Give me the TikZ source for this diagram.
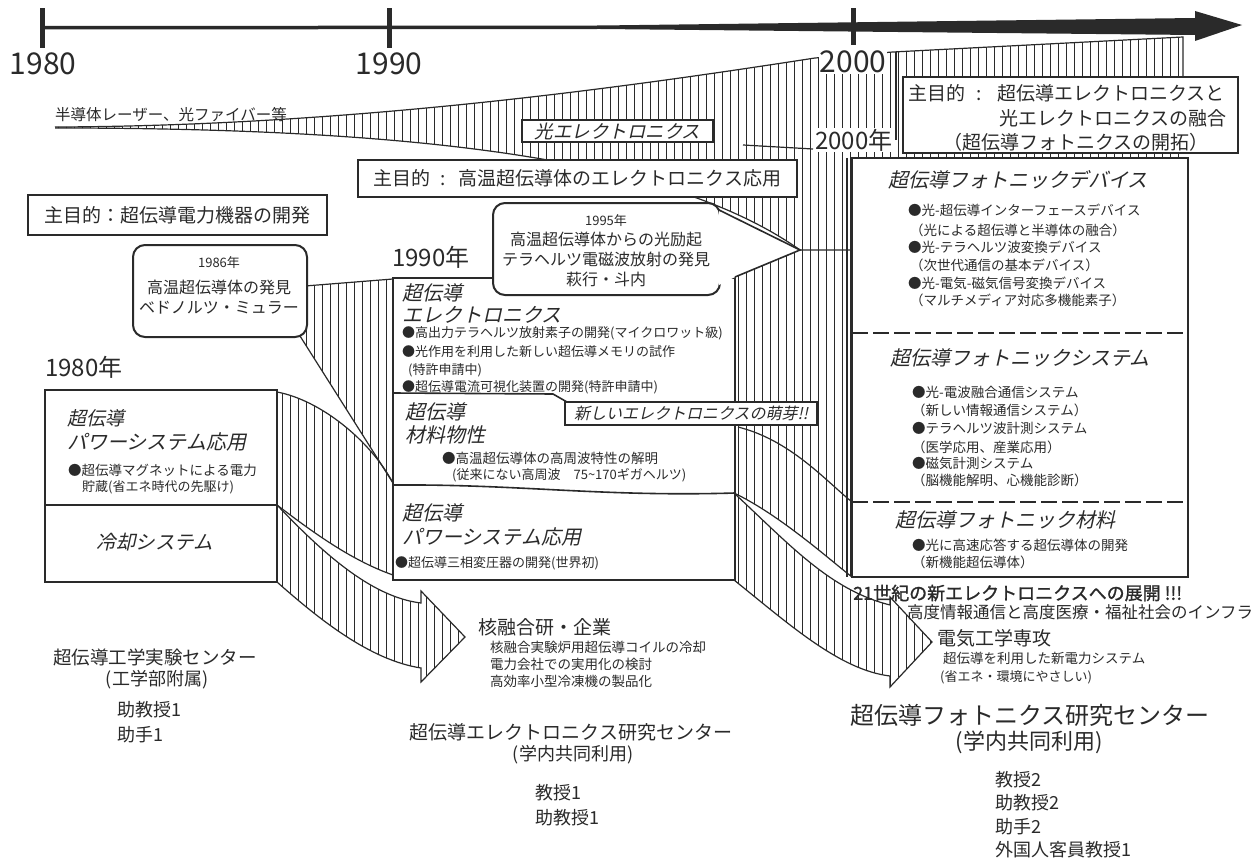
\documentclass[tikz,border=0pt]{standalone}
\usepackage{fontspec}
\setmainfont{Noto Sans CJK JP}
\newfontfamily\jit[FakeSlant=0.22]{Noto Sans CJK JP}
\newfontfamily\jbd[FakeBold=1.2]{Noto Sans CJK JP}
\newcommand{\fz}[1]{\fontsize{#1pt}{#1pt}\selectfont}
\newcommand{\stripefill}{\foreach \x in {2,10,...,1250} \draw[stripe] (\x,0) -- (\x,861);}
\definecolor{ink}{HTML}{2A2A2A}
\begin{document}
\begin{tikzpicture}[x=1pt,y=-1pt,
  box/.style={draw=ink, line width=2pt, fill=white},
  thinbox/.style={draw=ink, line width=1.1pt, fill=white},
  bline/.style={draw=ink, line width=1.2pt},
  stripe/.style={draw=ink, line width=0.8pt},
  lbl/.style={inner sep=0pt, anchor=west, text=ink},
  ctr/.style={inner sep=0pt, text=ink},
]
\fill[white] (0,0) rectangle (1252,861);
\useasboundingbox (0,0) rectangle (1252,861);

% ---------------- timeline ----------------
\fill[ink] (42,26) -- (600,25.5) -- (1195,18) -- (1195,11) -- (1242,25) -- (1195,41) -- (1195,35) -- (600,29) -- (42,29.5) -- cycle;
\fill[ink] (40,8) rectangle (45,48);
\fill[ink] (387,8) rectangle (392,48);
\fill[ink] (851,8) rectangle (856,45);
\node[ctr, font=\fz{30}] (y1980) at (43,64) {1980};
\node[ctr, font=\fz{30}] (y1990) at (389,64) {1990};

% ---------------- striped flows ----------------
% opto-electronics band, right column and flow out of the 1990 box
\begin{scope}
\clip (55,127) .. controls (360,126) and (640,85) .. (815,58) -- (893,52) -- (1183,37) -- (1183,160) -- (852,160) -- (852,577) .. controls (830,560) and (780,515) .. (734,493) -- (734,275) -- (800,250) .. controls (680,165) and (450,128) .. (55,128) -- cycle;
\stripefill
\end{scope}
% flow 1990 power -> electrical engineering arrow
\begin{scope}
\clip (734,493) .. controls (790,545) and (830,590) .. (890,605) -- (890,597) -- (932,642) -- (890,687) -- (890,676) .. controls (840,670) and (790,625) .. (734,580) -- cycle;
\stripefill
\end{scope}
% 1986 discovery flow
\begin{scope}
\clip (305,286) -- (393,279) -- (393,483) -- (300,336) -- cycle;
\stripefill
\end{scope}
% 1980 power -> 1990 power
\begin{scope}
\clip (277,392) .. controls (320,400) and (370,440) .. (393,483) -- (393,575) .. controls (350,560) and (310,530) .. (277,505) -- cycle;
\stripefill
\end{scope}
% 1980 cooling -> arrow
\begin{scope}
\clip (277,505) .. controls (320,550) and (370,597) .. (421,603) -- (421,591) -- (465,637) -- (421,682) -- (421,668) .. controls (370,660) and (320,620) .. (277,582) -- cycle;
\stripefill
\end{scope}

% outlines of flows
\draw[bline] (55,127) .. controls (360,126) and (640,85) .. (815,58) -- (893,52) -- (1183,37) -- (1183,80);
\draw[bline] (55,128) .. controls (450,128) and (680,165) .. (800,250) -- (852,250);
\draw[bline] (738,427) .. controls (790,440) and (825,480) .. (852,502);
\draw[bline] (734,493) .. controls (780,515) and (830,560) .. (852,577);
\draw[bline] (743,145) -- (813,149);
\draw[bline] (896,52) -- (896,140);
\draw[bline] (734,493) .. controls (790,545) and (830,590) .. (890,605) -- (890,597) -- (932,642) -- (890,687) -- (890,676) .. controls (840,670) and (790,625) .. (734,580);
\draw[bline] (305,286) -- (393,279);
\draw[bline] (300,336) -- (393,483);
\draw[bline] (277,392) .. controls (320,400) and (370,440) .. (393,483);
\draw[bline] (393,575) .. controls (350,560) and (310,530) .. (277,505);
\draw[bline] (277,505) .. controls (320,550) and (370,597) .. (421,603) -- (421,591) -- (465,637) -- (421,682) -- (421,668) .. controls (370,660) and (320,620) .. (277,582);

% ---------------- year labels on the flows ----------------
\node[ctr, font=\fz{30}, fill=white, inner sep=1pt] (y2000) at (853,62) {2000};
\node[lbl, font=\fz{24}, fill=white, inner sep=1pt] (n2000) at (814,140) {2000年};
\node[lbl, font=\fz{24}] (n1990) at (392,257) {1990年};
\node[lbl, font=\fz{24}] (n1980) at (45,367) {1980年};

% ---------------- semiconductor label ----------------
\node[lbl, font=\fz{15.5}] (semi) at (55,115) {半導体レーザー、光ファイバー等};
\node[thinbox, ctr, font=\jit\fz{18.5}, minimum width=191pt, minimum height=22pt] (opto) at (617.5,131) {光エレクトロニクス};

% ---------------- goal boxes ----------------
\node[box, ctr, font=\fz{19}, minimum width=299pt, minimum height=40pt] (goal80) at (177.5,215) {主目的：超伝導電力機器の開発};
\node[box, ctr, font=\fz{19}, minimum width=439pt, minimum height=37pt] (goal90) at (577.5,178.5) {主目的\hspace{0.5em}:\hspace{0.7em}高温超伝導体のエレクトロニクス応用};
\draw[box] (903,77) rectangle (1238,153);
\node[lbl, font=\fz{19}] (g2a) at (908,93) {主目的\hspace{0.6em}:\hspace{0.8em}超伝導エレクトロニクスと};
\node[ctr, anchor=east, font=\fz{19}] (g2b) at (1227,118) {光エレクトロニクスの融合};
\node[ctr, font=\fz{19}] (g2c) at (1076,142) {（超伝導フォトニクスの開拓）};

% ---------------- 1980 box ----------------
\draw[box] (45,390) rectangle (277,582);
\draw[bline, line width=2pt] (45,505) -- (277,505);
\node[lbl, font=\jit\fz{19}] (a1) at (67,418) {超伝導};
\node[lbl, font=\jit\fz{20}] (a2) at (67,442) {パワーシステム応用};
\node[lbl, font=\fz{13.5}] (a3) at (68,470) {●超伝導マグネットによる電力};
\node[lbl, font=\fz{13}] (a4) at (82,487) {貯蔵(省エネ時代の先駆け)};
\node[ctr, font=\jit\fz{19.5}] (a5) at (155,542) {冷却システム};

% 1986 callout
\draw[box, rounded corners=12pt] (133,245) rectangle (307,337);
\node[ctr, font=\fz{13}] (c1) at (219,263) {1986年};
\node[ctr, font=\fz{16}] (c2) at (219,287) {高温超伝導体の発見};
\node[ctr, font=\fz{16}] (c3) at (219,308) {ベドノルツ・ミュラー};

% ---------------- 1990 box ----------------
\draw[box] (393,278) rectangle (735,580);
\draw[bline, line width=1.6pt] (393,393) -- (553,394) -- (567,402);
\draw[bline, line width=1.6pt] (393,485) .. controls (520,484) and (600,497) .. (735,493);
\node[lbl, font=\jit\fz{20}] (b1) at (402,293) {超伝導};
\node[lbl, font=\jit\fz{20}] (b2) at (402,315) {エレクトロニクス};
\node[lbl, font=\fz{13}] (b3) at (402,333) {●高出力テラヘルツ放射素子の開発(マイクロワット級)};
\node[lbl, font=\fz{13}] (b4) at (402,352) {●光作用を利用した新しい超伝導メモリの試作};
\node[lbl, font=\fz{13}] (b5) at (408,370) {(特許申請中)};
\node[lbl, font=\fz{13}] (b6) at (402,387) {●超伝導電流可視化装置の開発(特許申請中)};
\node[lbl, font=\jit\fz{20}] (b7) at (405,412) {超伝導};
\node[lbl, font=\jit\fz{20}] (b8) at (405,435) {材料物性};
\node[lbl, font=\fz{13.5}] (b9) at (442,458) {●高温超伝導体の高周波特性の解明};
\node[lbl, font=\fz{13}] (b10) at (452,475) {(従来にない高周波\hspace{1em}75\textasciitilde170ギガヘルツ)};
\node[lbl, font=\jit\fz{20}] (b11) at (402,513) {超伝導};
\node[lbl, font=\jit\fz{20}] (b12) at (402,537) {パワーシステム応用};
\node[lbl, font=\fz{13}] (b13) at (395,563) {●超伝導三相変圧器の開発(世界初)};
\node[thinbox, ctr, font=\jit\fz{16}, minimum width=252pt, minimum height=23pt] (sprout) at (691,413.5) {新しいエレクトロニクスの萌芽!!};

% 1995 callout with pointer
\draw[box, rounded corners=12pt] (493,203) rectangle (720,295);
\fill[white] (719,210) -- (800,250) -- (735,277) -- (719,285) -- cycle;
\draw[bline, line width=1.6pt] (719,210) -- (800,250) -- (735,277);
\node[ctr, font=\fz{13}] (d1) at (606,221) {1995年};
\node[ctr, font=\fz{16}] (d2) at (606,239) {高温超伝導体からの光励起};
\node[ctr, font=\fz{16}] (d3) at (606,259) {テラヘルツ電磁波放射の発見};
\node[ctr, font=\fz{16}] (d4) at (606,279) {萩行・斗内};

% ---------------- 2000 block ----------------
\draw[box] (852,158) rectangle (1188,577);
\draw[bline, line width=1.4pt] (847,158) -- (847,577);
\draw[bline, line width=1.6pt, dash pattern=on 16pt off 5pt] (852,333) -- (1188,333);
\draw[bline, line width=1.6pt, dash pattern=on 16pt off 5pt] (852,502) -- (1188,502);
\node[lbl, font=\jit\fz{20}] (e1) at (888,180) {超伝導フォトニックデバイス};
\node[lbl, font=\fz{13.5}] (e2) at (908,210) {●光-超伝導インターフェースデバイス};
\node[lbl, font=\fz{13.5}] (e3) at (910,230) {（光による超伝導と半導体の融合）};
\node[lbl, font=\fz{13.5}] (e4) at (908,247) {●光-テラヘルツ波変換デバイス};
\node[lbl, font=\fz{13.5}] (e5) at (910,265) {（次世代通信の基本デバイス）};
\node[lbl, font=\fz{13.5}] (e6) at (908,283) {●光-電気-磁気信号変換デバイス};
\node[lbl, font=\fz{13.5}] (e7) at (910,300) {（マルチメディア対応多機能素子）};
\node[lbl, font=\jit\fz{20}] (f1) at (890,358) {超伝導フォトニックシステム};
\node[lbl, font=\fz{13.5}] (f2) at (912,392) {●光-電波融合通信システム};
\node[lbl, font=\fz{13.5}] (f3) at (912,410) {（新しい情報通信システム）};
\node[lbl, font=\fz{13.5}] (f4) at (912,428) {●テラヘルツ波計測システム};
\node[lbl, font=\fz{13.5}] (f5) at (912,447) {（医学応用、産業応用）};
\node[lbl, font=\fz{13.5}] (f6) at (912,463) {●磁気計測システム};
\node[lbl, font=\fz{13.5}] (f7) at (912,480) {（脳機能解明、心機能診断）};
\node[lbl, font=\jit\fz{20}] (h1) at (895,520) {超伝導フォトニック材料};
\node[lbl, font=\fz{13.5}] (h2) at (912,545) {●光に高速応答する超伝導体の開発};
\node[lbl, font=\fz{13.5}] (h3) at (912,562) {（新機能超伝導体）};

% ---------------- lower texts ----------------
\node[lbl, font=\jbd\fz{18}] (k1) at (853,593) {21世紀の新エレクトロニクスへの展開 !!!};
\node[lbl, font=\fz{16.5}] (k2) at (907,612) {高度情報通信と高度医療・福祉社会のインフラ};
\node[lbl, font=\fz{19}] (k3) at (937,638) {電気工学専攻};
\node[lbl, font=\fz{13.5}] (k4) at (943,658) {超伝導を利用した新電力システム};
\node[lbl, font=\fz{13}] (k5) at (940,677) {(省エネ・環境にやさしい)};
\node[ctr, font=\fz{24}] (k6) at (1030,715) {超伝導フォトニクス研究センター};
\node[ctr, font=\fz{22}] (k7) at (1029,742) {(学内共同利用)};
\node[lbl, font=\fz{18}] (k8) at (995,780) {教授2};
\node[lbl, font=\fz{18}] (k9) at (995,803) {助教授2};
\node[lbl, font=\fz{18}] (k10) at (995,827) {助手2};
\node[lbl, font=\fz{18}] (k11) at (995,850) {外国人客員教授1};

\node[lbl, font=\fz{19}] (m1) at (478,627) {核融合研・企業};
\node[lbl, font=\fz{13.5}] (m2) at (490,647) {核融合実験炉用超伝導コイルの冷却};
\node[lbl, font=\fz{13.5}] (m3) at (490,664) {電力会社での実用化の検討};
\node[lbl, font=\fz{13.5}] (m4) at (490,681) {高効率小型冷凍機の製品化};
\node[ctr, font=\fz{19}] (m5) at (571,732) {超伝導エレクトロニクス研究センター};
\node[ctr, font=\fz{18}] (m6) at (573,755) {(学内共同利用)};
\node[lbl, font=\fz{18}] (m7) at (535,793) {教授1};
\node[lbl, font=\fz{18}] (m8) at (535,818) {助教授1};

\node[ctr, font=\fz{18.5}] (p1) at (155,657) {超伝導工学実験センター};
\node[ctr, font=\fz{18}] (p2) at (157,680) {(工学部附属)};
\node[lbl, font=\fz{18}] (p3) at (117,710) {助教授1};
\node[lbl, font=\fz{18}] (p4) at (117,735) {助手1};
\end{tikzpicture}
\end{document}
